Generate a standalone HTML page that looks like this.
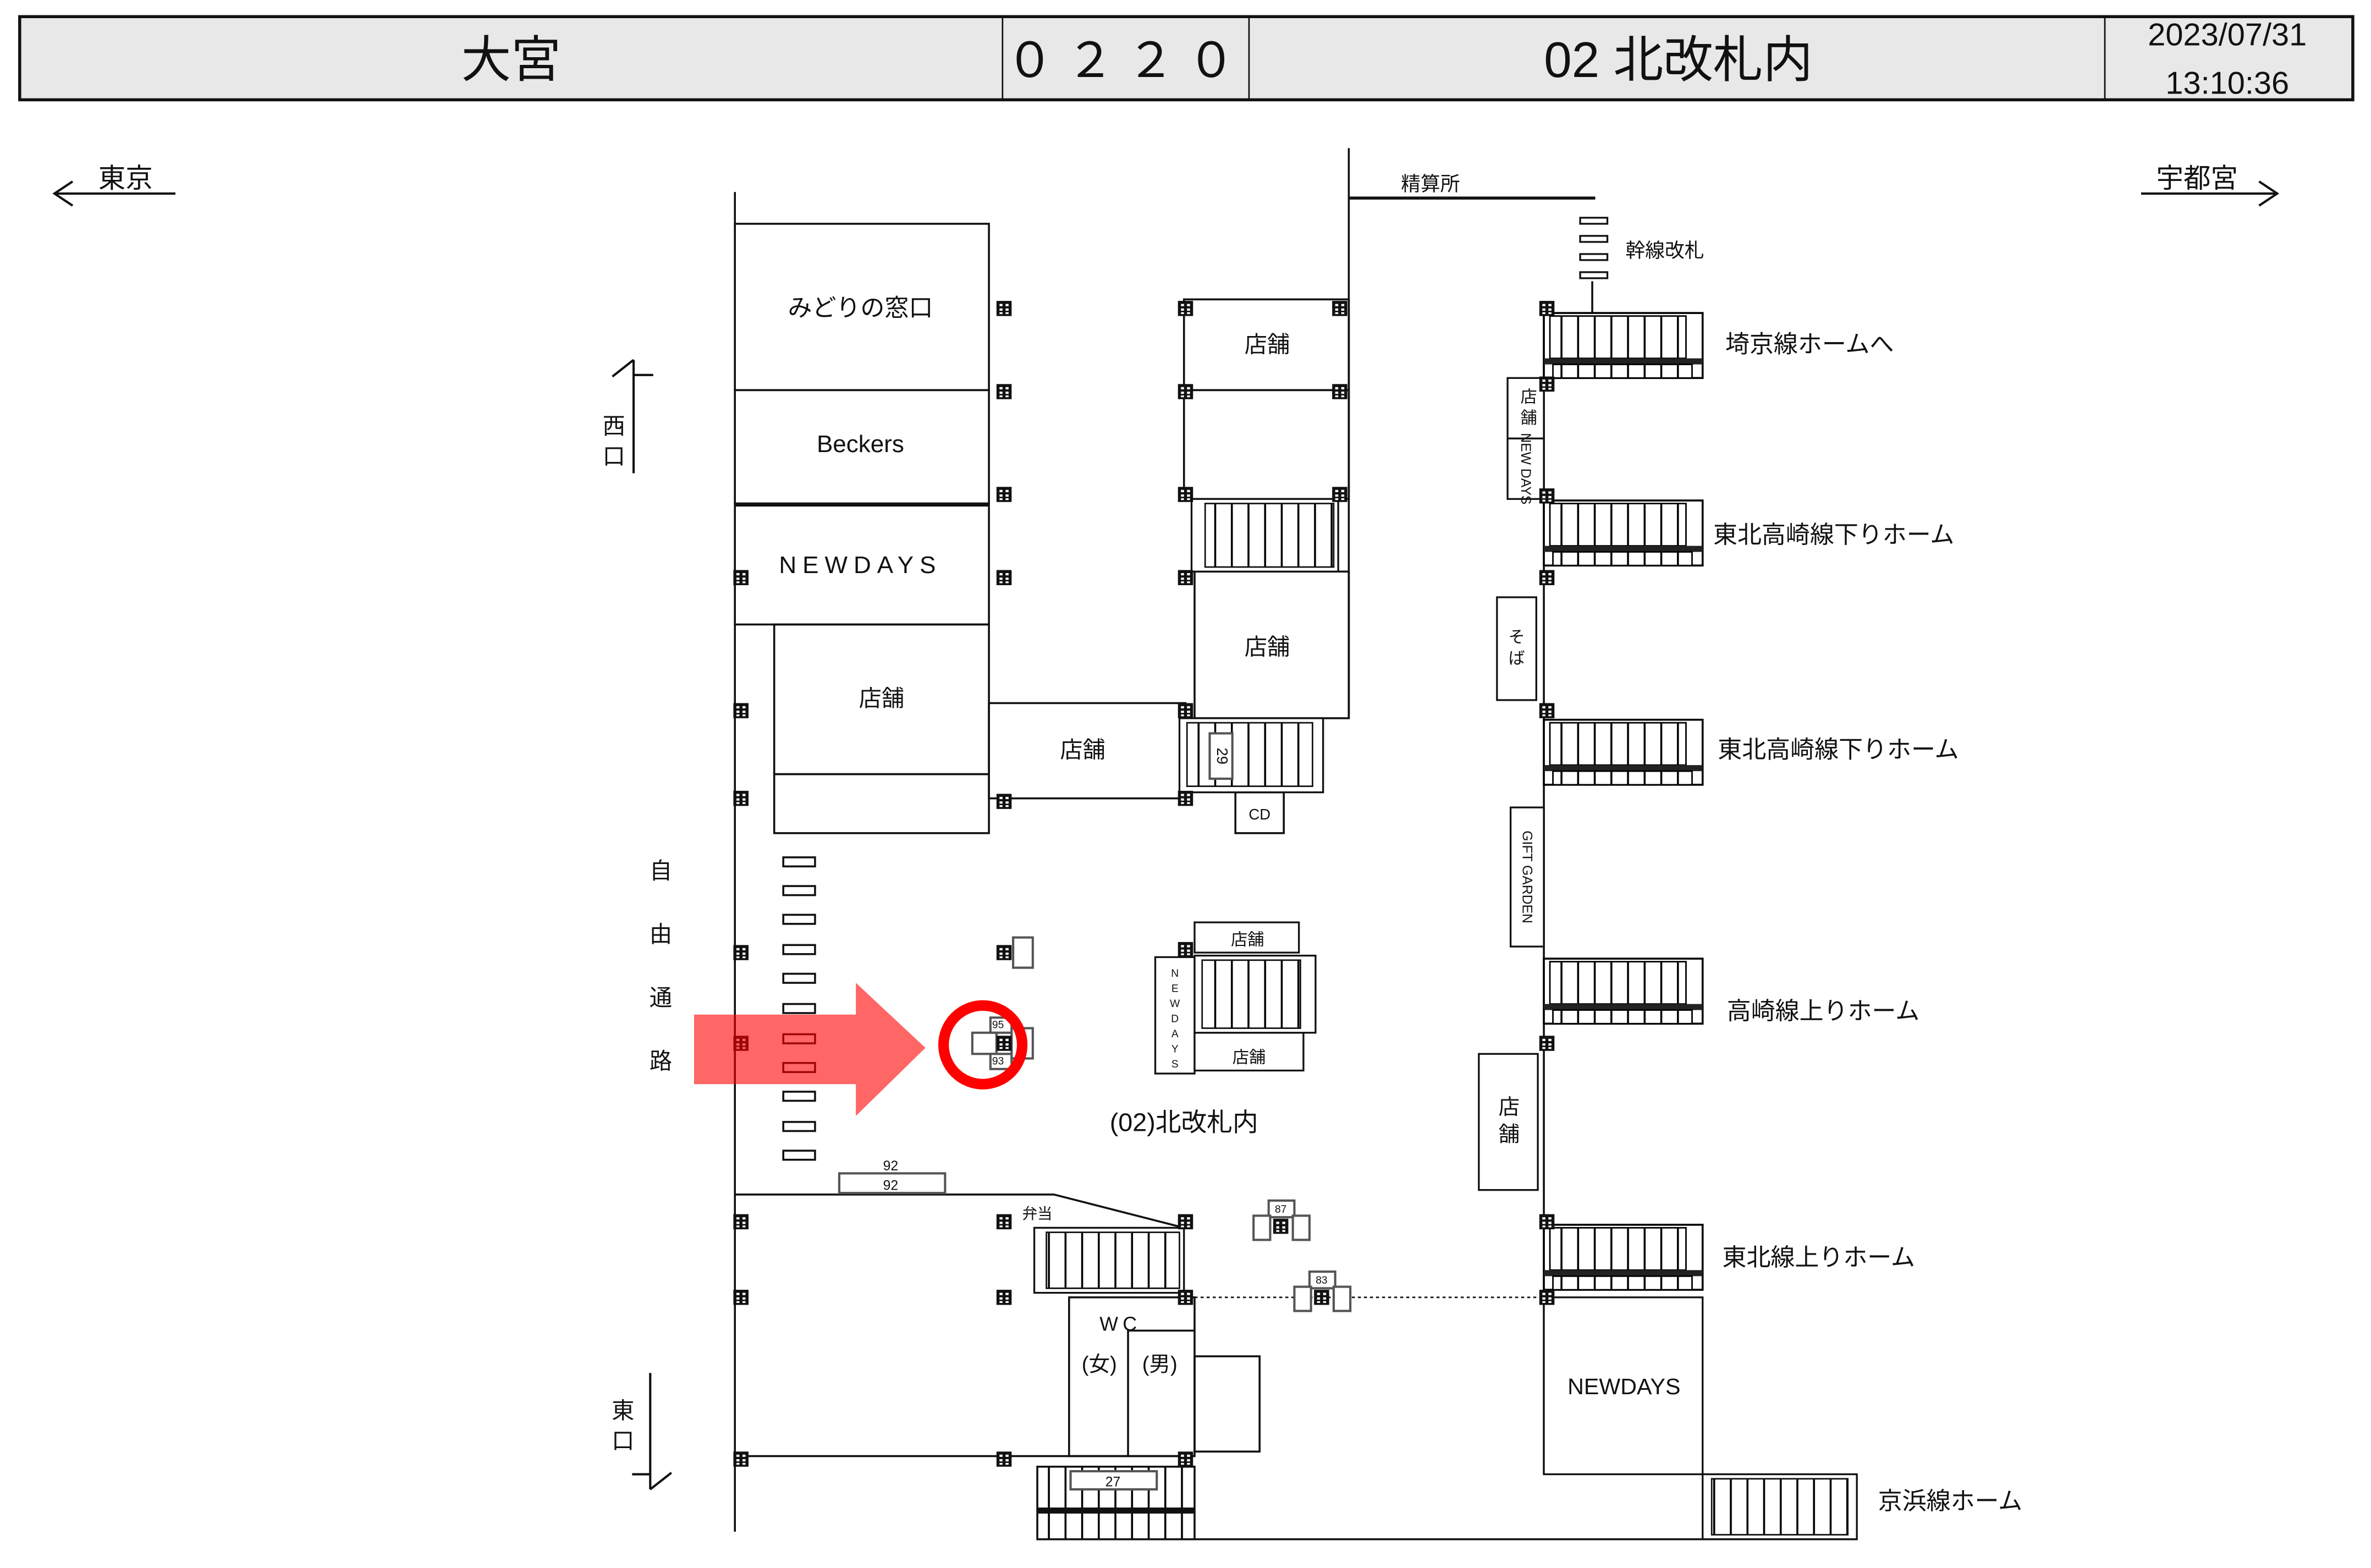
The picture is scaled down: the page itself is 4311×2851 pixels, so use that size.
<!DOCTYPE html>
<html><head><meta charset="utf-8"><style>
html,body{margin:0;padding:0;background:#fff;}
svg{display:block;}
text{font-family:"Liberation Sans","Noto Sans CJK JP",sans-serif;fill:#111;}
</style></head><body>
<svg width="4311" height="2851" viewBox="0 0 1568 1037" xmlns="http://www.w3.org/2000/svg">
<defs>
<pattern id="st" width="11" height="10" patternUnits="userSpaceOnUse"><rect width="11" height="10" fill="#fff"/><rect x="0" y="0" width="1.3" height="10" fill="#000"/></pattern>
<g id="p"><rect x="-5" y="-5" width="10" height="10" fill="#111"/><rect x="-3" y="-3" width="2" height="1.5" fill="#fff"/><rect x="1" y="-3" width="2" height="1.5" fill="#fff"/><rect x="-3" y="0" width="2" height="1.5" fill="#fff"/><rect x="1" y="0" width="2" height="1.5" fill="#fff"/><rect x="-3" y="2.5" width="2" height="1.2" fill="#fff"/><rect x="1" y="2.5" width="2" height="1.2" fill="#fff"/></g>
<g id="rs">
<rect x="0" y="0" width="105" height="43" fill="#fff" stroke="#000" stroke-width="1.3"/>
<rect x="4" y="2" width="90" height="28" fill="url(#st)" stroke="#000" stroke-width="1"/>
<rect x="0" y="30" width="105" height="4" fill="#222"/>
<rect x="6" y="34" width="92" height="9" fill="url(#st)" stroke="#000" stroke-width="1"/>
</g>
</defs>
<rect width="1568" height="1037" fill="#fff"/>
<!-- header -->
<rect x="13" y="11" width="1543" height="55" fill="#e8e8e8" stroke="#111" stroke-width="2"/>
<g stroke="#111" stroke-width="1"><line x1="663" y1="11" x2="663" y2="66"/><line x1="826" y1="11" x2="826" y2="66"/><line x1="1392" y1="11" x2="1392" y2="66"/></g>
<text x="338" y="51" font-size="33" text-anchor="middle">大宮</text>
<text x="745" y="51" font-size="32" text-anchor="middle" letter-spacing="8">０２２０</text>
<text x="1110" y="51" font-size="33" text-anchor="middle">02 北改札内</text>
<text x="1473" y="30" font-size="21" text-anchor="middle">2023/07/31</text>
<text x="1473" y="62" font-size="21" text-anchor="middle">13:10:36</text>
<!-- direction arrows -->
<g stroke="#111" fill="none" stroke-width="1.5">
<line x1="36" y1="128" x2="116" y2="128"/><polyline points="48,120 36,128 48,136"/>
<line x1="1416" y1="128" x2="1506" y2="128"/><polyline points="1494,120 1506,128 1494,136"/>
<line x1="419" y1="238" x2="419" y2="313"/><polyline points="405,249 419,238"/><line x1="419" y1="248" x2="432" y2="248"/>
<line x1="430" y1="908" x2="430" y2="985"/><polyline points="444,974 430,985"/><line x1="418" y1="975" x2="430" y2="975"/>
</g>
<text x="83" y="124" font-size="18" text-anchor="middle">東京</text>
<text x="1453" y="124" font-size="18" text-anchor="middle">宇都宮</text>
<text x="406" y="287" font-size="15" text-anchor="middle">西</text><text x="406" y="307" font-size="15" text-anchor="middle">口</text>
<text x="412" y="938" font-size="15" text-anchor="middle">東</text><text x="412" y="958" font-size="15" text-anchor="middle">口</text>
<g font-size="15" text-anchor="middle"><text x="437" y="581">自</text><text x="437" y="623">由</text><text x="437" y="665">通</text><text x="437" y="707">路</text></g>
<!-- main lines -->
<g stroke="#111" stroke-width="1.3" fill="none">
<line x1="486" y1="127" x2="486" y2="1013"/>
<rect x="486" y="148" width="168" height="110"/>
<rect x="486" y="258" width="168" height="75"/>
<rect x="486" y="333" width="168" height="80"/>
<line x1="486" y1="334" x2="654" y2="334" stroke-width="2"/>
<rect x="512" y="413" width="142" height="99"/>
<rect x="512" y="512" width="142" height="39"/>
<rect x="654" y="465" width="130" height="63"/>
<rect x="783" y="198" width="109" height="60"/>
<rect x="783" y="258" width="109" height="72"/>
<line x1="892" y1="98" x2="892" y2="475"/>
<line x1="892" y1="131" x2="1055" y2="131" stroke-width="2"/>
<rect x="790" y="378" width="102" height="97"/>
<rect x="817" y="524" width="32" height="27"/>
<line x1="1021" y1="205" x2="1021" y2="975"/>
<line x1="1053" y1="186" x2="1053" y2="208"/>
</g>
<g fill="#fff" stroke="#111" stroke-width="1.2">
<rect x="1045" y="144" width="18" height="4"/><rect x="1045" y="156" width="18" height="4"/><rect x="1045" y="168" width="18" height="4"/><rect x="1045" y="180" width="18" height="4"/>
</g>
<text x="946" y="126" font-size="13" text-anchor="middle">精算所</text>
<text x="1075" y="170" font-size="13">幹線改札</text>
<!-- left column stairs -->
<rect x="788" y="330" width="97" height="48" fill="#fff" stroke="#111" stroke-width="1.2"/>
<rect x="797" y="333" width="85" height="42" fill="url(#st)" stroke="#111"/>
<rect x="780" y="475" width="95" height="49" fill="#fff" stroke="#111" stroke-width="1.2"/>
<rect x="785" y="478" width="83" height="42" fill="url(#st)" stroke="#111"/>
<rect x="800" y="485" width="15" height="30" fill="#fff" stroke="#555" stroke-width="1.5"/>
<text x="808" y="500" font-size="10" text-anchor="middle" transform="rotate(90 808 500)" dy="3">29</text>
<text x="833" y="542" font-size="10" text-anchor="middle">CD</text>
<!-- labels -->
<g font-size="16" text-anchor="middle">
<text x="569" y="209">みどりの窓口</text>
<text x="569" y="299" font-size="16">Beckers</text>
<text x="569" y="379" font-size="16" letter-spacing="4">NEWDAYS</text>
<text x="583" y="467" font-size="15">店舗</text>
<text x="716" y="501" font-size="15">店舗</text>
<text x="838" y="233" font-size="15">店舗</text>
<text x="838" y="433" font-size="15">店舗</text>
</g>
<!-- right side stairs -->
<use href="#rs" x="1021" y="207"/>
<use href="#rs" x="1021" y="331"/>
<use href="#rs" x="1021" y="476"/>
<use href="#rs" x="1021" y="634"/>
<use href="#rs" x="1021" y="810"/>
<g font-size="16">
<text x="1141" y="233">埼京線ホームへ</text>
<text x="1133" y="359">東北高崎線下りホーム</text>
<text x="1136" y="501">東北高崎線下りホーム</text>
<text x="1142" y="674">高崎線上りホーム</text>
<text x="1139" y="837">東北線上りホーム</text>
<text x="1242" y="998">京浜線ホーム</text>
</g>
<g fill="#fff" stroke="#111" stroke-width="1.2">
<rect x="997" y="250" width="24" height="40"/><rect x="997" y="290" width="24" height="40"/>
<rect x="990" y="395" width="26" height="68"/>
<rect x="999" y="534" width="22" height="92"/>
<rect x="978" y="697" width="39" height="90"/>
<rect x="1021" y="858" width="105" height="117"/>
<rect x="1126" y="975" width="102" height="43"/>
</g>
<rect x="1132" y="978" width="90" height="37" fill="url(#st)" stroke="#111"/>
<g font-size="11" text-anchor="middle">
<text x="1011" y="266">店</text><text x="1011" y="280">舗</text>
<text x="1003" y="425">そ</text><text x="1003" y="439">ば</text>
<text x="998" y="737" font-size="14">店</text><text x="998" y="755" font-size="14">舗</text>
</g>
<text x="1009" y="310" font-size="9" text-anchor="middle" transform="rotate(90 1009 310)" dy="3">NEW DAYS</text>
<text x="1010" y="580" font-size="9" text-anchor="middle" transform="rotate(90 1010 580)" dy="3">GIFT GARDEN</text>
<text x="1074" y="922" font-size="15" text-anchor="middle">NEWDAYS</text>
<!-- dotted line -->
<line x1="790" y1="858" x2="1021" y2="858" stroke="#111" stroke-width="1" stroke-dasharray="2,2"/>
<!-- center kiosk -->
<g fill="#fff" stroke="#111" stroke-width="1.2">
<rect x="790" y="610" width="69" height="20"/>
<rect x="764" y="633" width="26" height="77"/>
<rect x="790" y="683" width="72" height="25"/>
<rect x="790" y="632" width="80" height="51"/>
</g>
<rect x="795" y="635" width="65" height="45" fill="url(#st)" stroke="#111"/>
<text x="825" y="625" font-size="11" text-anchor="middle">店舗</text>
<text x="826" y="703" font-size="11" text-anchor="middle">店舗</text>
<g font-size="7" text-anchor="middle"><text x="777" y="646">N</text><text x="777" y="656">E</text><text x="777" y="666">W</text><text x="777" y="676">D</text><text x="777" y="686">A</text><text x="777" y="696">Y</text><text x="777" y="706">S</text></g>
<text x="783" y="748" font-size="17" text-anchor="middle">(02)北改札内</text>
<!-- bottom left area -->
<g stroke="#111" stroke-width="1.3" fill="none">
<polyline points="486,790 697,790 783,812"/>
<line x1="486" y1="963" x2="783" y2="963"/>
<rect x="707" y="858" width="83" height="105"/>
<polyline points="746,963 746,880 790,880"/>
<rect x="790" y="897" width="43" height="63"/>
<line x1="686" y1="1018" x2="1228" y2="1018"/>
</g>
<rect x="555" y="776" width="70" height="13" fill="#fff" stroke="#555" stroke-width="1.5"/>
<text x="589" y="774" font-size="9" text-anchor="middle">92</text><text x="589" y="787" font-size="9" text-anchor="middle">92</text>
<text x="676" y="806" font-size="10">弁当</text>
<rect x="684" y="812" width="99" height="43" fill="#fff" stroke="#111" stroke-width="1.2"/>
<rect x="692" y="815" width="88" height="37" fill="url(#st)" stroke="#111"/>
<rect x="686" y="970" width="104" height="48" fill="url(#st)" stroke="#111" stroke-width="1.3"/>
<rect x="686" y="997" width="104" height="4" fill="#111"/>
<rect x="708" y="973" width="57" height="12" fill="#fff" stroke="#555" stroke-width="1.5"/>
<text x="736" y="983" font-size="9" text-anchor="middle">27</text>
<text x="741" y="880" font-size="13" text-anchor="middle" letter-spacing="3">WC</text>
<text x="727" y="907" font-size="14" text-anchor="middle">(女)</text>
<text x="767" y="907" font-size="14" text-anchor="middle">(男)</text>
<!-- small pillar groups -->
<g fill="#fff" stroke="#555" stroke-width="1.5">
<rect x="839" y="794" width="17" height="11"/><rect x="829" y="804" width="11" height="16"/><rect x="855" y="804" width="11" height="16"/>
<rect x="866" y="841" width="17" height="11"/><rect x="856" y="851" width="11" height="16"/><rect x="882" y="851" width="11" height="16"/>
<rect x="670" y="620" width="13" height="20"/>
<rect x="655" y="673" width="14" height="10"/><rect x="643" y="683" width="16" height="14"/><rect x="655" y="697" width="14" height="10"/><rect x="669" y="680" width="14" height="20"/>
</g>
<g font-size="7" text-anchor="middle"><text x="847" y="802">87</text><text x="874" y="849">83</text><text x="660" y="680">95</text><text x="660" y="704">93</text></g>
<!-- pillars -->
<g>
<use href="#p" x="664" y="204"/><use href="#p" x="664" y="259"/><use href="#p" x="664" y="327"/><use href="#p" x="664" y="382"/><use href="#p" x="664" y="530"/>
<use href="#p" x="490" y="382"/><use href="#p" x="490" y="470"/><use href="#p" x="490" y="528"/><use href="#p" x="490" y="630"/><use href="#p" x="490" y="690"/>
<use href="#p" x="784" y="204"/><use href="#p" x="784" y="259"/><use href="#p" x="784" y="327"/><use href="#p" x="784" y="382"/><use href="#p" x="784" y="470"/><use href="#p" x="784" y="528"/>
<use href="#p" x="886" y="204"/><use href="#p" x="886" y="259"/><use href="#p" x="886" y="327"/>
<use href="#p" x="1023" y="204"/><use href="#p" x="1023" y="254"/><use href="#p" x="1023" y="328"/><use href="#p" x="1023" y="382"/><use href="#p" x="1023" y="470"/><use href="#p" x="1023" y="690"/><use href="#p" x="1023" y="808"/><use href="#p" x="1023" y="858"/>
<use href="#p" x="490" y="808"/><use href="#p" x="490" y="858"/><use href="#p" x="490" y="965"/>
<use href="#p" x="664" y="808"/><use href="#p" x="664" y="858"/><use href="#p" x="664" y="965"/>
<use href="#p" x="784" y="808"/><use href="#p" x="784" y="858"/><use href="#p" x="784" y="965"/>
<use href="#p" x="664" y="630"/><use href="#p" x="784" y="628"/><use href="#p" x="664" y="690"/>
<use href="#p" x="847" y="811"/><use href="#p" x="874" y="858"/>
</g>
<!-- free passage dashes -->
<g fill="#fff" stroke="#111" stroke-width="1.3">
<rect x="518" y="567" width="21" height="6"/><rect x="518" y="586" width="21" height="6"/><rect x="518" y="605" width="21" height="6"/><rect x="518" y="625" width="21" height="6"/><rect x="518" y="644" width="21" height="6"/><rect x="518" y="664" width="21" height="6"/><rect x="518" y="684" width="21" height="6"/><rect x="518" y="703" width="21" height="6"/><rect x="518" y="722" width="21" height="6"/><rect x="518" y="742" width="21" height="6"/><rect x="518" y="761" width="21" height="6"/>
</g>
<!-- highlight arrow -->
<polygon points="459,671 566,671 566,650 612,693 566,738 566,717 459,717" fill="rgba(255,0,0,0.6)"/>
<circle cx="650" cy="691" r="26" fill="none" stroke="#f00" stroke-width="7"/>
</svg>
</body></html>
